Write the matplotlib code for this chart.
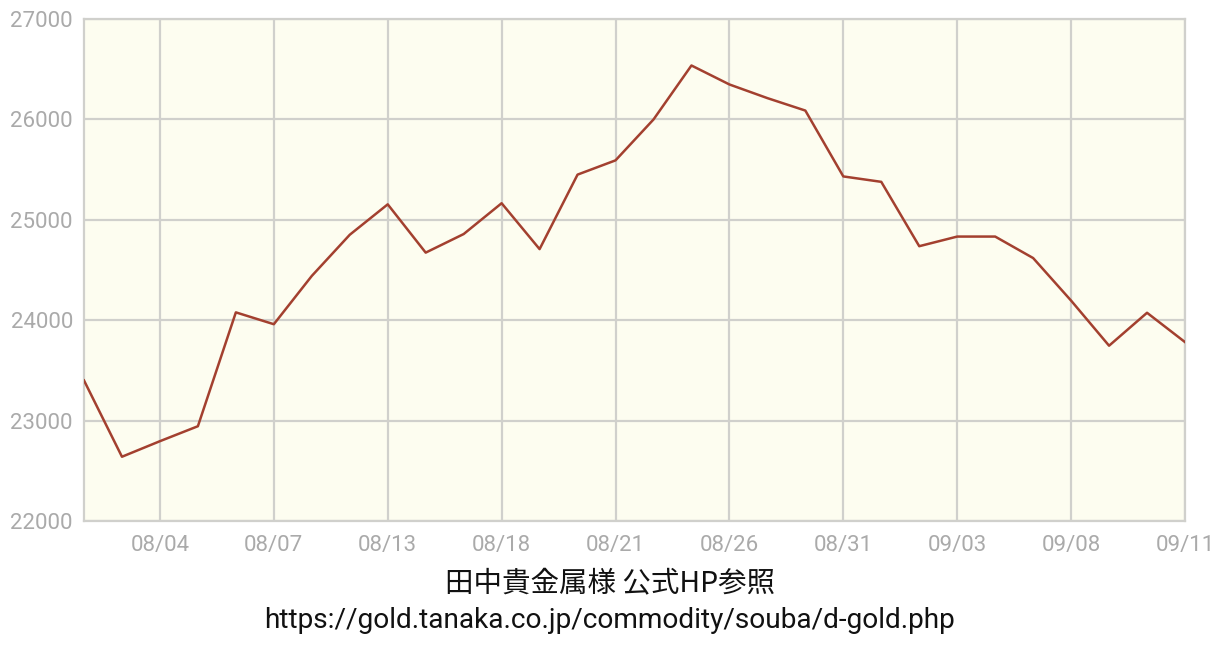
import matplotlib
matplotlib.use("Agg")
import matplotlib.pyplot as plt

values = [23400, 22640, 22795, 22944, 24078, 23960, 24441, 24851, 25154, 24673,
          24858, 25165, 24708, 25450, 25592, 25999, 26537, 26348, 26212, 26088,
          25432, 25378, 24737, 24833, 24833, 24619, 24195, 23746, 24074, 23782]
tick_idx = [2, 5, 8, 11, 14, 17, 20, 23, 26, 29]
tick_labels = ["08/04", "08/07", "08/13", "08/18", "08/21", "08/26", "08/31", "09/03", "09/08", "09/11"]
y_ticks = [22000, 23000, 24000, 25000, 26000, 27000]
caption1 = "田中貴金属様 公式HP参照"
caption2 = "https://gold.tanaka.co.jp/commodity/souba/d-gold.php"

plt.rcParams['font.family'] = ['Roboto', 'DejaVu Sans']

fig = plt.figure(figsize=(12.2, 6.55), dpi=100)
ax = fig.add_axes([84/1220, 1-521/655, (1185-84)/1220, (521-19)/655])
ax.set_facecolor('#fdfdf0')
x = list(range(len(values)))
ax.plot(x, values, color='#a3402f', lw=1.8, zorder=3)
ax.set_xlim(0, len(values)-1)
ax.set_ylim(22000, 27000)
ax.set_yticks(y_ticks)
ax.set_yticklabels([str(v) for v in y_ticks])
ax.set_xticks(tick_idx)
ax.set_xticklabels(tick_labels)
ax.grid(True, color='#d0d0cc', lw=1.6, zorder=1)
for s in ax.spines.values():
    s.set_color('#d0d0cc')
    s.set_linewidth(1.6)
ax.tick_params(axis='both', colors='#d0d0cc', labelcolor='#aaaaaa', labelsize=16, length=0)
ax.tick_params(axis='x', pad=10)
ax.tick_params(axis='y', pad=8)

fig.text(0.5, 1-584/655, caption1, ha='center', va='center', fontsize=20.5,
         family=['Noto Sans CJK JP', 'DejaVu Sans'], color='#111111')
fig.text(0.5, 1-621/655, caption2, ha='center', va='center', fontsize=20.2,
         family=['Roboto', 'DejaVu Sans'], color='#111111')

fig.savefig("out.png", dpi=100, facecolor='white')
